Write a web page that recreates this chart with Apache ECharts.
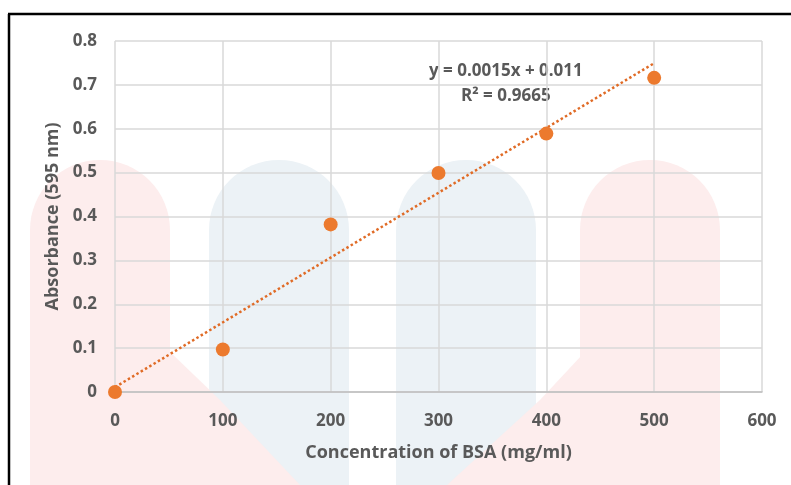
<!DOCTYPE html>
<html>
<head>
<meta charset="utf-8">
<script src="https://cdn.jsdelivr.net/npm/echarts@6/dist/echarts.min.js"></script>
<style>
  html, body { margin: 0; padding: 0; background: #fff; }
  #main { width: 791px; height: 485px; }
</style>
</head>
<body>
<div id="main"></div>
<script>
// BSA standard curve
var conc = [0, 100, 200, 300, 400, 500];
var absorb = [0, 0.097, 0.382, 0.499, 0.589, 0.716];
var slope = 0.0015;
var intercept = 0.011;
var fitSlope = 0.001477;   // unrounded slope, line ends near 0.75
var trendX = [0, 500];
var xTicks = [0, 100, 200, 300, 400, 500, 600];
var yTicks = [0, 0.1, 0.2, 0.3, 0.4, 0.5, 0.6, 0.7, 0.8];

var chart = echarts.init(document.getElementById('main'));

var points = [];
for (var i = 0; i < conc.length; i++) {
    points.push([conc[i], absorb[i]]);
}
var trend = [];
for (var j = 0; j < trendX.length; j++) {
    trend.push([trendX[j], trendX[j] * fitSlope + intercept]);
}

var grey = '#595959';
var font = '"Open Sans", "Noto Sans", sans-serif';
var pink = '#fdeded';
var blue = '#ecf2f6';

// faint watermark shapes behind the chart
var wm = [
    {x: 30, y: 160, w: 140, c: pink},
    {x: 209, y: 160, w: 140, c: blue},
    {x: 396, y: 160, w: 140, c: blue},
    {x: 580, y: 160, w: 140, c: pink}
];
var graphics = [];
for (var k = 0; k < wm.length; k++) {
    graphics.push({
        type: 'rect', z: -10, silent: true,
        shape: {x: wm[k].x, y: wm[k].y, width: wm[k].w, height: 485 - wm[k].y, r: [70, 70, 0, 0]},
        style: {fill: wm[k].c}
    });
}
graphics.push({
    type: 'polygon', z: -9, silent: true,
    shape: {points: [[168, 350], [220, 400], [300, 485], [168, 485]]},
    style: {fill: pink}
});
graphics.push({
    type: 'polygon', z: -9, silent: true,
    shape: {points: [[582, 355], [540, 400], [447, 485], [582, 485]]},
    style: {fill: pink}
});
// frame edges at top and left
graphics.push({type: 'line', shape: {x1: 8, y1: 14, x2: 791, y2: 14}, style: {stroke: '#000', lineWidth: 2.5}});
graphics.push({type: 'line', shape: {x1: 9, y1: 14, x2: 9, y2: 485}, style: {stroke: '#000', lineWidth: 2.5}});
// trendline equation
graphics.push({
    type: 'text', left: 429, top: 63,
    style: {text: 'y = ' + slope + 'x + ' + intercept, fill: grey, font: 'bold 17px ' + font}
});
graphics.push({
    type: 'text', left: 461, top: 88,
    style: {text: 'R² = 0.9665', fill: grey, font: 'bold 17px ' + font}
});

var option = {
    backgroundColor: '#fff',
    animation: false,
    graphic: graphics,
    grid: {left: 115, right: 29, top: 41, bottom: 93},
    xAxis: {
        type: 'value', min: 0, max: 600, interval: 100,
        name: 'Concentration of BSA (mg/ml)',
        nameLocation: 'middle', nameGap: 52,
        nameTextStyle: {color: grey, fontSize: 18, fontWeight: 'bold', fontFamily: font},
        axisLine: {show: true, lineStyle: {color: '#bfbfbf', width: 1.5}},
        axisTick: {show: false},
        axisLabel: {
            color: grey, fontSize: 17, fontWeight: 'bold', fontFamily: font, margin: 21,
            formatter: function (v) { return xTicks.indexOf(v) >= 0 ? String(v) : ''; }
        },
        splitLine: {show: true, lineStyle: {color: '#d9d9d9', width: 1.5}}
    },
    yAxis: {
        type: 'value', min: 0, max: 0.8, interval: 0.1,
        name: 'Absorbance (595 nm)',
        nameLocation: 'middle', nameGap: 53,
        nameTextStyle: {color: grey, fontSize: 18, fontWeight: 'bold', fontFamily: font},
        axisLine: {show: false},
        axisTick: {show: false},
        axisLabel: {
            color: grey, fontSize: 17, fontWeight: 'bold', fontFamily: font, margin: 18,
            formatter: function (v) {
                var t = Math.round(v * 10) / 10;
                return yTicks.indexOf(t) >= 0 ? String(t) : '';
            }
        },
        splitLine: {show: true, lineStyle: {color: '#d9d9d9', width: 1.5}}
    },
    series: [
        {
            type: 'line', data: trend, symbol: 'none', z: 2,
            lineStyle: {color: '#e06b26', width: 2.5, type: [2.5, 2.5], cap: 'butt'}
        },
        {
            type: 'scatter', data: points, symbolSize: 14, z: 3,
            itemStyle: {color: '#ec7a2e', opacity: 1}
        }
    ]
};
chart.setOption(option);
</script>
</body>
</html>
